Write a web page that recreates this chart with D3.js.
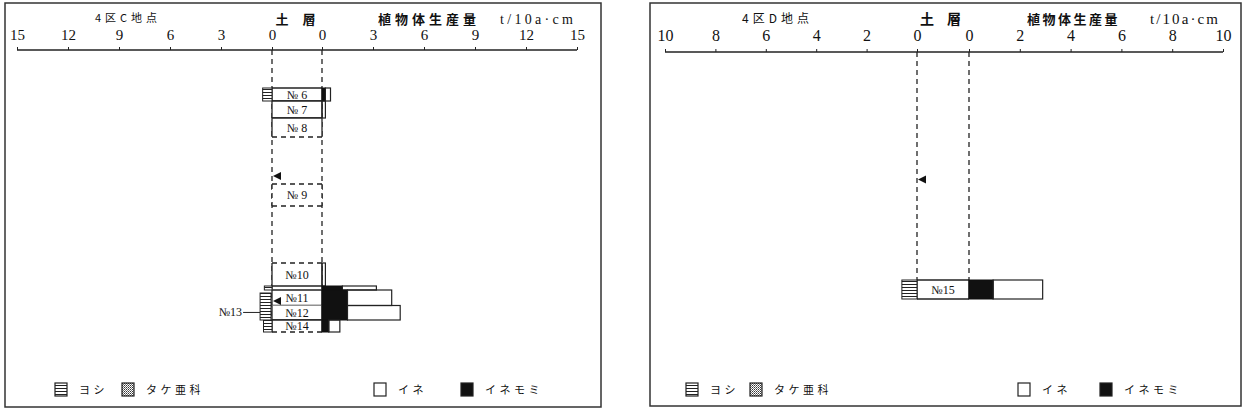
<!DOCTYPE html>
<html>
<head>
<meta charset="utf-8">
<script src="https://cdn.jsdelivr.net/npm/d3@7"></script>
<style>
  body { margin: 0; background: #fff; }
  svg { display: block; }
  .num { font-family: "Liberation Serif", serif; fill: #111; }
  .jp { font-family: "Noto Sans CJK JP", sans-serif; fill: #111; }
</style>
</head>
<body>
<svg id="chart" width="1247" height="417"></svg>
<script>
// 4区C地点  (depth in cm, production in t/10a·cm)
const layerC   = ["№ 6", "№ 7", "№ 8", "№ 9", "№10", "", "№11", "№12", "№14"];
const topC     = [15.2, 20.4, 27.2, 53.6, 85.2, 94.4, 96, 102.2, 108];
const bottomC  = [20.4, 27.2, 34.8, 62.4, 94.4, 96, 102.2, 108, 112.8];
const yoshiC   = [0.55, 0, 0, 0, 0, 0.45, 0, 0, 0.5];
const inemomiC = [0.2, 0, 0, 0, 0, 1.2, 1.5, 1.5, 0.4];
const ineC     = [0.3, 0.2, 0, 0, 0.2, 2.0, 2.6, 3.1, 0.65];
const sideLabelC = ["№13"];
const sideTopC   = [97.2];
const sideBotC   = [108];
const sideYoshiC = [0.7];
const arrowC   = [50.4, 100.4];
const ticksC   = [0, 3, 6, 9, 12, 15];

// 4区D地点
const layerD   = ["№15"];
const topD     = [91.2];
const bottomD  = [98.8];
const yoshiD   = [0.6];
const inemomiD = [0.95];
const ineD     = [1.95];
const arrowD   = [51];
const ticksD   = [0, 2, 4, 6, 8, 10];

const legendLeft  = ["ヨシ", "タケ亜科"];
const legendRight = ["イネ", "イネモミ"];

const svg = d3.select("#chart");
const defs = svg.append("defs");

// ヨシ = horizontal hatch, タケ亜科 = stipple
const ph = defs.append("pattern").attr("id", "yoshi")
  .attr("patternUnits", "userSpaceOnUse").attr("width", 4).attr("height", 3);
ph.append("rect").attr("width", 4).attr("height", 3).attr("fill", "#fff");
ph.append("rect").attr("y", 2).attr("width", 4).attr("height", 1).attr("fill", "#222");

const pt = defs.append("pattern").attr("id", "take")
  .attr("patternUnits", "userSpaceOnUse").attr("width", 2).attr("height", 2);
pt.append("rect").attr("width", 2).attr("height", 2).attr("fill", "#fff");
pt.append("rect").attr("width", 1).attr("height", 1).attr("fill", "#333");
pt.append("rect").attr("x", 1).attr("y", 1).attr("width", 1).attr("height", 1).attr("fill", "#777");

function drawPanel(p) {
  const g = svg.append("g");
  g.append("rect")
    .attr("x", p.frame[0]).attr("y", p.frame[1])
    .attr("width", p.frame[2] - p.frame[0]).attr("height", p.frame[3] - p.frame[1])
    .attr("fill", "none").attr("stroke", "#333").attr("stroke-width", 1.5);

  const max = d3.max(p.ticks);
  const xL = d3.scaleLinear().domain([0, max]).range([p.left0, p.leftEnd]);
  const xR = d3.scaleLinear().domain([0, max]).range([p.right0, p.rightEnd]);
  const y = d3.scaleLinear().domain([0, 140]).range([p.axisY, p.axisY + 350]);

  // axis
  g.append("line").attr("x1", xL(max)).attr("x2", xR(max))
    .attr("y1", p.axisY).attr("y2", p.axisY).attr("stroke", "#222").attr("stroke-width", 1.3);
  [xL, xR].forEach(s => {
    const ax = g.append("g").attr("transform", `translate(0,${p.axisY})`)
      .call(d3.axisTop(s).tickValues(p.ticks).tickSize(3).tickPadding(p.tickPad).tickFormat(d3.format("d")));
    ax.select(".domain").remove();
    ax.selectAll("line").attr("stroke", "#222");
    ax.selectAll("text").attr("class", "num").attr("font-size", p.tickFont).attr("fill", "#111");
  });

  // headers
  g.append("text").attr("class", "jp").attr("x", p.title[0]).attr("y", p.title[1])
    .attr("font-size", p.title[2]).attr("letter-spacing", p.title[3]).text(p.name);
  g.append("text").attr("class", "jp").attr("x", p.soil[0]).attr("y", p.soil[2])
    .attr("font-size", p.soil[3]).attr("font-weight", "bold").attr("text-anchor", "middle").text("土");
  g.append("text").attr("class", "jp").attr("x", p.soil[1]).attr("y", p.soil[2])
    .attr("font-size", p.soil[3]).attr("font-weight", "bold").attr("text-anchor", "middle").text("層");
  g.append("text").attr("class", "jp").attr("x", p.prod[0]).attr("y", p.prod[1])
    .attr("font-size", p.prod[2]).attr("letter-spacing", p.prod[3]).attr("font-weight", "bold").text("植物体生産量");
  g.append("text").attr("class", "num").attr("font-family", "Liberation Mono, monospace")
    .attr("x", p.unit[0]).attr("y", p.unit[1]).attr("font-size", p.unit[2])
    .attr("textLength", p.unit[3]).text("t/10a·cm");

  // dashed soil column guides
  const lastBot = d3.max(p.bottom);
  [xL(0), xR(0)].forEach(x => {
    g.append("line").attr("x1", x).attr("x2", x).attr("y1", p.axisY).attr("y2", y(lastBot))
      .attr("stroke", "#222").attr("stroke-width", 1.3).attr("stroke-dasharray", "5,4");
  });

  const n = p.layer.length;
  const x0 = xL(0), x1 = xR(0);
  for (let i = 0; i < n; i++) {
    const t = y(p.top[i]), b = y(p.bottom[i]);
    const gapTop = i > 0 && p.top[i] !== p.bottom[i - 1];
    const gapBot = i < n - 1 ? p.top[i + 1] !== p.bottom[i] : n > 1;
    const iso = gapTop && gapBot;
    if (p.layer[i] !== "") {
      g.append("rect").attr("x", x0).attr("y", t).attr("width", x1 - x0).attr("height", b - t).attr("fill", "#fff");
      const edge = (xa, ya, xb, yb, dash) => g.append("line")
        .attr("x1", xa).attr("y1", ya).attr("x2", xb).attr("y2", yb)
        .attr("stroke", "#222").attr("stroke-width", 1.3).attr("stroke-dasharray", dash ? "5,4" : null);
      // no dividing line between two layers that share one sample column (№11/№12)
      const shared = i > 0 && p.layer[i - 1] !== "" && p.inemomi[i] === p.inemomi[i - 1] && p.inemomi[i] > 0;
      if (!shared) edge(x0, t, x1, t, gapTop);
      edge(x0, b, x1, b, gapBot);
      edge(x0, t, x0, b, iso);
      edge(x1, t, x1, b, iso);
      g.append("text").attr("class", "num").attr("x", (x0 + x1) / 2).attr("y", (t + b) / 2 + 4)
        .attr("text-anchor", "middle").attr("font-size", 12).text(p.layer[i]);
    }
    if (p.yoshi[i] > 0) {
      g.append("rect").attr("x", xL(p.yoshi[i])).attr("y", t)
        .attr("width", x0 - xL(p.yoshi[i])).attr("height", b - t)
        .attr("fill", "url(#yoshi)").attr("stroke", "#222").attr("stroke-width", 1);
    }
    if (p.inemomi[i] > 0) {
      g.append("rect").attr("x", x1).attr("y", t)
        .attr("width", xR(p.inemomi[i]) - x1).attr("height", b - t)
        .attr("fill", "#111").attr("stroke", "#111").attr("stroke-width", 1);
    }
    if (p.ine[i] > 0) {
      const s = p.inemomi[i];
      g.append("rect").attr("x", xR(s)).attr("y", t)
        .attr("width", xR(s + p.ine[i]) - xR(s)).attr("height", b - t)
        .attr("fill", "none").attr("stroke", "#222").attr("stroke-width", 1.2);
    }
  }

  // side samples (left only)
  (p.sideLabel || []).forEach((lab, i) => {
    const t = y(p.sideTop[i]), b = y(p.sideBot[i]);
    g.append("rect").attr("x", xL(p.sideYoshi[i])).attr("y", t)
      .attr("width", x0 - 1 - xL(p.sideYoshi[i])).attr("height", b - t)
      .attr("fill", "url(#yoshi)").attr("stroke", "#222").attr("stroke-width", 1);
    const ly = t + (b - t) * 0.72;
    g.append("line").attr("x1", xL(p.sideYoshi[i]) - 17).attr("x2", xL(p.sideYoshi[i]))
      .attr("y1", ly).attr("y2", ly).attr("stroke", "#222");
    g.append("text").attr("class", "num").attr("x", xL(p.sideYoshi[i]) - 18).attr("y", ly + 4)
      .attr("text-anchor", "end").attr("font-size", 12).text(lab);
  });

  // arrows
  p.arrow.forEach(d => {
    const ax = x0 + 1, ay = y(d);
    g.append("path").attr("d", `M${ax},${ay} L${ax + 8},${ay - 4} L${ax + 8},${ay + 4} Z`).attr("fill", "#111");
  });

  // legend
  const lg = g.append("g").attr("transform", `translate(0,${p.legendY})`);
  const items = [
    { x: p.legX[0], fill: "url(#yoshi)", label: legendLeft[0] },
    { x: p.legX[1], fill: "url(#take)", label: legendLeft[1] },
    { x: p.legX[2], fill: "#fff", label: legendRight[0] },
    { x: p.legX[3], fill: "#111", label: legendRight[1] }
  ];
  items.forEach(it => {
    lg.append("rect").attr("x", it.x).attr("y", -6).attr("width", 12).attr("height", 13)
      .attr("fill", it.fill).attr("stroke", "#222").attr("stroke-width", 1.2);
    lg.append("text").attr("class", "jp").attr("x", it.x + 24).attr("y", 5)
      .attr("font-size", 11).attr("letter-spacing", 3.5).text(it.label);
  });
}

drawPanel({
  name: "4区C地点", frame: [5, 3, 601, 407], axisY: 50,
  left0: 272, leftEnd: 17, right0: 322, rightEnd: 577,
  ticks: ticksC, tickFont: 15, tickPad: 7,
  title: [95, 22, 11, 4], soil: [282, 309, 24, 13], prod: [378, 24, 13, 4], unit: [500, 24, 14, 73],
  layer: layerC, top: topC, bottom: bottomC, yoshi: yoshiC, inemomi: inemomiC, ine: ineC,
  sideLabel: sideLabelC, sideTop: sideTopC, sideBot: sideBotC, sideYoshi: sideYoshiC,
  arrow: arrowC, legendY: 389, legX: [55, 122, 374, 461]
});

drawPanel({
  name: "4区D地点", frame: [650, 3, 1241, 406], axisY: 52,
  left0: 917, leftEnd: 665, right0: 969, rightEnd: 1223,
  ticks: ticksD, tickFont: 16, tickPad: 8,
  title: [742, 23, 12, 4], soil: [927, 954, 24, 14], prod: [1027, 24, 13, 2.5], unit: [1150, 24, 15, 68],
  layer: layerD, top: topD, bottom: bottomD, yoshi: yoshiD, inemomi: inemomiD, ine: ineD,
  arrow: arrowD, legendY: 389, legX: [686, 750, 1018, 1100]
});
</script>
</body>
</html>
